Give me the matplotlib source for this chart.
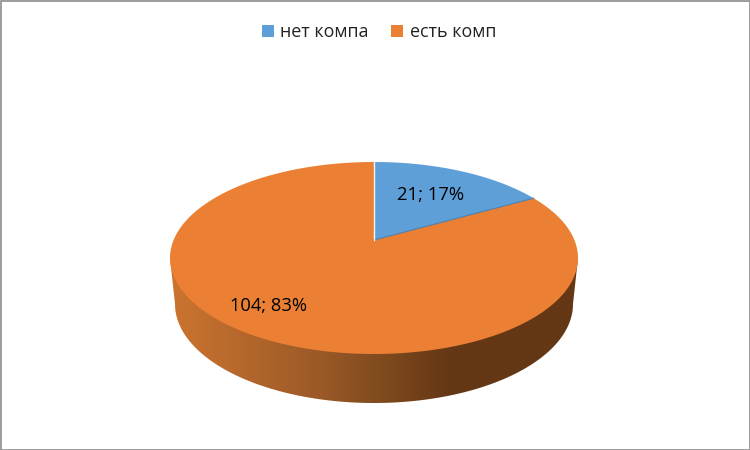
import numpy as np
import matplotlib
matplotlib.use("Agg")
import matplotlib.pyplot as plt
from matplotlib.colors import LinearSegmentedColormap
from matplotlib.patches import Patch, Polygon, Rectangle

categories = ["нет компа", "есть комп"]
counts = [21, 104]
percents = [17, 83]

blue = "#5F9FD8"
orange = "#EB8035"

plt.rcParams["font.family"] = ["Open Sans", "DejaVu Sans"]

# pie geometry in pixels
cx, cy = 374, 258
ry = 96
apex = 18
persp = apex * 2 / (2 * ry)
rx_flat = 204 * np.sqrt(1 - persp ** 2)


def project(angle):
    # angle is clockwise from twelve o'clock, tilted disc with perspective
    u, v = np.sin(angle), np.cos(angle)
    w = 1 + persp * v
    return cx + rx_flat * u / w, cy - (ry * v + apex) / w


fig = plt.figure(figsize=(7.5, 4.5), dpi=100)
ax = fig.add_axes([0, 0, 1, 1])
ax.axis("off")

# side wall with the dark shading to the right
bx, by, brx, bry = 374, 304, 199, 99
ang = np.linspace(np.pi, 0, 200)
wall = np.vstack([
    [[170, 258]],
    np.column_stack([bx + brx * np.cos(ang), by + bry * np.sin(ang)]),
    [[578, 258]],
])
stops = [(0.0, "#CC7430"), (0.03, "#C8722F"), (0.36, "#9C5A28"), (0.52, "#7F4A1E"),
         (0.69, "#643715"), (1.0, "#643715")]
cmap = LinearSegmentedColormap.from_list("wall", stops)
img = ax.imshow(np.linspace(0, 1, 400)[None, :], cmap=cmap, aspect="auto",
                extent=(170, 578, 403, 258), zorder=1)
ax.set_xlim(0, 750)
ax.set_ylim(450, 0)
clip = Polygon(wall, transform=ax.transData, facecolor="none", edgecolor="none")
ax.add_patch(clip)
img.set_clip_path(clip)

# top of the pie, angles come from the counts
fractions = np.array(counts) / sum(counts)
edges = np.concatenate([[0], np.cumsum(fractions)]) * 2 * np.pi
apex_xy = project(0)[0], cy - apex
colors = [blue, orange]
for i in [1, 0]:
    t = np.linspace(edges[i], edges[i + 1], 300)
    x, y = project(t)
    ax.fill(np.r_[apex_xy[0], x], np.r_[apex_xy[1], y], color=colors[i], lw=0, zorder=2 + (1 - i))

# thin edges of the blue slice
xe, ye = project(edges[1])
ax.plot([apex_xy[0], xe], [apex_xy[1], ye], color="#4F7FA8", lw=0.8, zorder=4)
xt, yt = project(0)
ax.plot([apex_xy[0], xt], [apex_xy[1], yt], color="#F4F4F4", lw=1.0, zorder=4)

# data labels
ax.text(431, 195, f"{counts[0]}; {percents[0]}%", ha="center", va="center",
        fontsize=13.3, color="black", zorder=5)
ax.text(269, 306, f"{counts[1]}; {percents[1]}%", ha="center", va="center",
        fontsize=13.2, color="black", zorder=5)

handles = [Patch(facecolor=c, edgecolor="none") for c in colors]
ax.legend(handles, categories, ncol=2, frameon=False, fontsize=12.9,
          loc="upper center", bbox_to_anchor=(379 / 750, 1 - 14.5 / 450), borderpad=0,
          handlelength=0.66, handleheight=0.66, handletextpad=0.36, columnspacing=1.25,
          labelcolor="#222222")

# chart frame
ax.add_patch(Rectangle((0.5, 0.5), 749, 449, facecolor="none", edgecolor="#8C8C8C", lw=1.2, zorder=6))

fig.savefig("out.png", dpi=100)
